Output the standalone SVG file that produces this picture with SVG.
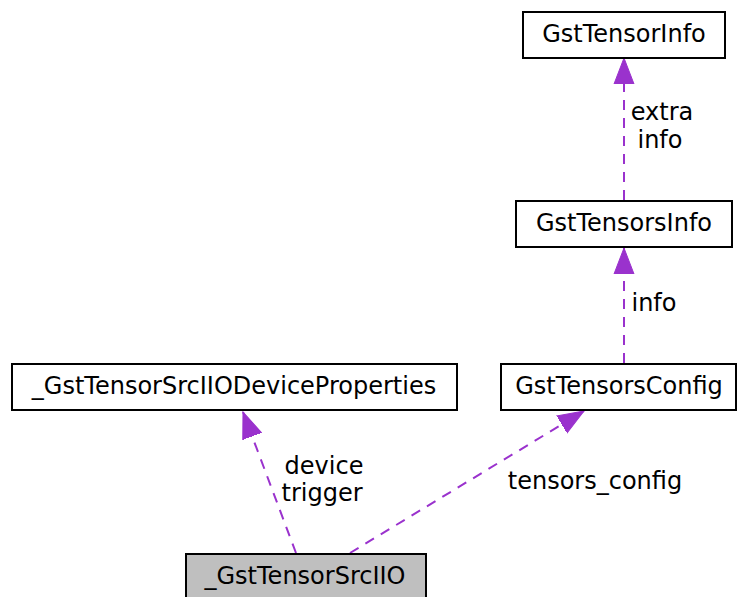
<svg xmlns="http://www.w3.org/2000/svg" width="737" height="597" viewBox="0 0 737 597">
<style>
.box{fill:#ffffff;stroke:#000000;stroke-width:2}
.cur{fill:#bfbfbf;stroke:#000000;stroke-width:2}
.lbl{font-family:"DejaVu Sans",sans-serif;font-size:24px;fill:#000000;text-anchor:middle}
.edge{fill:none;stroke:#9a32cd;stroke-width:2;stroke-dasharray:10,8}
</style>
<defs>
<marker id="ah" markerUnits="userSpaceOnUse" markerWidth="28" markerHeight="22" refX="26" refY="11" orient="auto">
<path d="M0,1 L26,11 L0,21 z" fill="#9a32cd" stroke="#9a32cd" stroke-width="1"/>
</marker>
</defs>
<rect width="737" height="597" fill="#ffffff"/>
<g id="connectors">
<path class="edge" d="M296,553 L243,412" marker-end="url(#ah)"/>
<path class="edge" d="M350,553 L584,411" marker-end="url(#ah)"/>
<path class="edge" d="M624,363 L624,248" marker-end="url(#ah)"/>
<path class="edge" d="M624,200 L624,58" marker-end="url(#ah)"/>
<text class="lbl" x="324" y="474">device</text>
<text class="lbl" x="322" y="501">trigger</text>
<text class="lbl" x="595" y="489">tensors_config</text>
<text class="lbl" x="654" y="311">info</text>
<text class="lbl" x="662" y="120">extra</text>
<text class="lbl" x="660" y="148">info</text>
</g>
<g id="node_srciio">
<rect class="cur" x="186" y="554" width="240" height="46"/>
<text class="lbl" x="305" y="584">_GstTensorSrcIIO</text>
</g>
<g id="node_devprops">
<rect class="box" x="12" y="364" width="445" height="46"/>
<text class="lbl" x="234" y="394">_GstTensorSrcIIODeviceProperties</text>
</g>
<g id="node_tensorsconfig">
<rect class="box" x="501" y="364" width="235" height="46"/>
<text class="lbl" x="619" y="394">GstTensorsConfig</text>
</g>
<g id="node_tensorsinfo">
<rect class="box" x="516" y="201" width="216" height="46"/>
<text class="lbl" x="624" y="231">GstTensorsInfo</text>
</g>
<g id="node_tensorinfo">
<rect class="box" x="523" y="12" width="202" height="46"/>
<text class="lbl" x="624" y="42">GstTensorInfo</text>
</g>
</svg>
